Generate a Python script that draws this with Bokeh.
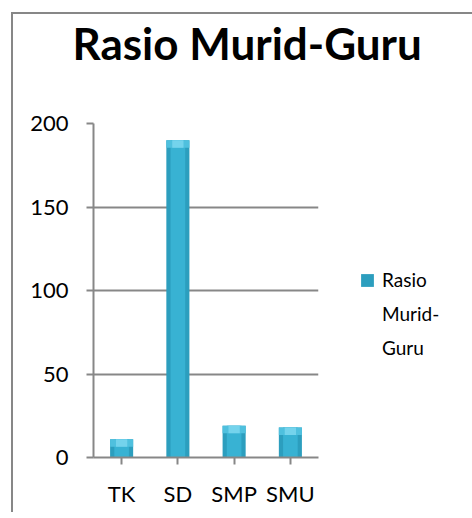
from bokeh.plotting import figure
from bokeh.models import ColumnDataSource, Legend, LegendItem, FixedTicker, Title
from bokeh.embed import file_html
from bokeh.resources import INLINE

categories = ["TK", "SD", "SMP", "SMU"]
ratio = [11, 190, 19, 18]
y_ticks = [0, 50, 100, 150, 200]
series_lines = ["Rasio", "Murid-", "Guru"]
chart_title = "Rasio Murid-Guru"

cap = 4.5  # depth of the lighter bevel at the top of each bar, in axis units
src = ColumnDataSource(dict(cat=categories, val=ratio,
                            cap_bottom=[v - cap for v in ratio]))

FONT = "Lato"
GRAY = "#878787"

p = figure(x_range=categories, y_range=(0, 200), frame_width=225, frame_height=334,
           output_backend="svg", toolbar_location=None, title_location=None,
           min_border_left=80, min_border_right=150, min_border_top=0, min_border_bottom=55)
p.styles = {"margin-left": "11px", "margin-top": "12px",
            "border-left": "2px solid " + GRAY, "border-top": "2px solid " + GRAY}

spacer = Title(text=" ", text_font=FONT, text_font_size="44px", standoff=1)
title = Title(text=chart_title, text_font=FONT, text_font_size="44px",
              text_font_style="bold", text_color="black", align="left",
              offset=-21, standoff=0)
p.add_layout(spacer, "above")
p.add_layout(title, "above")

p.outline_line_color = None
p.background_fill_color = "white"
p.border_fill_color = "white"
p.x_range.range_padding = 0

r = p.vbar(x="cat", top="val", width=0.41, source=src, fill_color="#2C9EBE", line_color=None)
p.vbar(x="cat", top="val", width=0.26, source=src, fill_color="#38B2D3", line_color=None)
p.vbar(x="cat", top="val", bottom="cap_bottom", width=0.41, source=src,
       fill_color="#4FC0DE", line_color=None)
p.vbar(x="cat", top="val", bottom="cap_bottom", width=0.2, source=src,
       fill_color="#74D3EC", line_color=None)
ghost = p.vbar(x="cat", top="val", width=0.41, source=src, fill_alpha=0, line_alpha=0)

p.yaxis.ticker = FixedTicker(ticks=y_ticks)
for ax in (p.xaxis[0], p.yaxis[0]):
    ax.axis_line_color = GRAY
    ax.axis_line_width = 2
    ax.major_tick_line_color = GRAY
    ax.major_tick_line_width = 2
    ax.major_tick_out = 7
    ax.major_tick_in = 0
    ax.minor_tick_line_color = None
    ax.major_label_text_font = FONT
    ax.major_label_text_font_size = "22px"
    ax.major_label_text_color = "black"
p.yaxis.major_label_standoff = 18
p.xaxis.major_label_standoff = 15

p.xgrid.grid_line_color = None
p.ygrid.grid_line_color = GRAY
p.ygrid.grid_line_width = 2

items = [LegendItem(label=series_lines[0], renderers=[r])]
items += [LegendItem(label=t, renderers=[ghost]) for t in series_lines[1:]]
legend = Legend(items=items,
                location=(41, 98), padding=0, margin=0, spacing=11,
                glyph_width=16, glyph_height=16, label_height=20, label_standoff=7,
                label_text_font=FONT, label_text_font_size="19px",
                label_text_color="black",
                border_line_color=None, background_fill_alpha=0)
p.add_layout(legend, "right")

open("out.html", "w").write(file_html(p, INLINE))
